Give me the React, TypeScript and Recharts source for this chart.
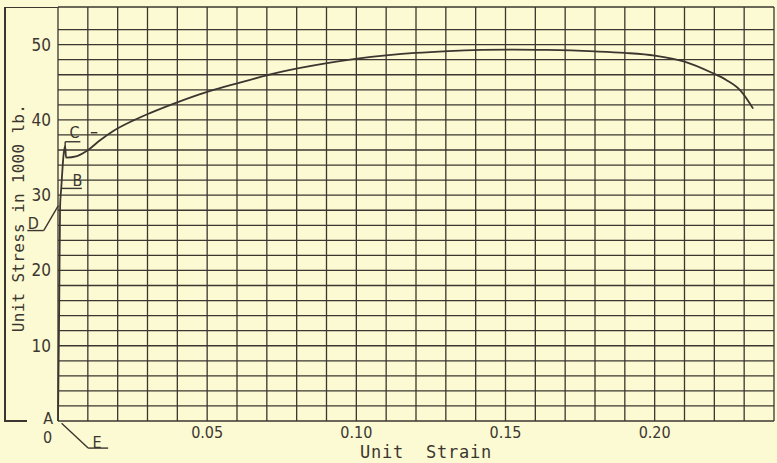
import React from 'react';
import { LineChart, Line, XAxis, YAxis, CartesianGrid, ReferenceLine, ReferenceDot } from 'recharts';

// Stress-strain curve for mild steel
const strain = [
  0, 0.0004, 0.0007, 0.0011, 0.0019, 0.0024, 0.0027, 0.0064, 0.0097, 0.0141, 0.0184,
  0.0251, 0.0308, 0.0384, 0.0474, 0.0641, 0.0751, 0.0897, 0.0997, 0.1108, 0.1197,
  0.1308, 0.142, 0.153, 0.164, 0.18, 0.19, 0.2, 0.21, 0.219, 0.224, 0.229, 0.233,
];
const stress = [
  0, 15, 28.5, 31, 35.5, 36.5, 35.0, 35.2, 35.9, 37.3, 38.5,
  39.9, 40.9, 42.1, 43.4, 45.3, 46.4, 47.5, 48.1, 48.6, 48.9,
  49.15, 49.3, 49.35, 49.3, 49.1, 48.9, 48.55, 47.75, 46.3, 45.3, 43.8, 41.5,
];

const strainGrid = [
  0, 0.01, 0.02, 0.03, 0.04, 0.05, 0.06, 0.07, 0.08, 0.09, 0.1, 0.11, 0.12,
  0.13, 0.14, 0.15, 0.16, 0.17, 0.18, 0.19, 0.2, 0.21, 0.22, 0.23, 0.24,
];
const strainLabels = [0.05, 0.1, 0.15, 0.2];
const strainLabelText = ['0.05', '0.10', '0.15', '0.20'];

const stressGrid = [0, 2, 4, 6, 8, 10, 12, 14, 16, 18, 20, 22, 24, 26, 28, 30, 32, 34, 36, 38, 40, 42, 44, 46, 48, 50, 52, 55];
const stressLabels = [10, 20, 30, 40, 50];

// point letters: [text, strain, stress]
const pointLetters: [string, number, number][] = [
  ['C', 0.0055, 38.3],
  ['B', 0.0065, 32.0],
  ['D', -0.0083, 26.3],
  ['A', -0.0033, 0.4],
  ['0', -0.0035, -2.2],
  ['E', 0.0131, -2.8],
];

// leader lines drawn in data space
const leaders: [number, number, number, number][] = [
  [0.0024, 36.4, 0.0024, 37.1],
  [0.0024, 37.1, 0.0075, 37.1],
  [0.0011, 30.9, 0.008, 30.9],
  [-0.0103, 25.3, -0.0048, 25.3],
  [-0.0048, 25.3, 0.0001, 28.6],
  [0.0012, -0.3, 0.0101, -3.6],
  [0.0101, -3.6, 0.0168, -3.6],
  [0.011, 38.3, 0.0132, 38.3],
];

const ink = '#3b3630';
const paper = '#fcfad2';
const tickFont = "'Liberation Sans Narrow', 'DejaVu Sans Condensed', 'DejaVu Sans', sans-serif";
const titleFont = "'DejaVu Sans Mono', monospace";

const data = strain.map((s, i) => ({ strain: s, stress: stress[i] }));

const StrainTick = (props: any) => {
  const { x, payload } = props;
  const idx = strainLabels.findIndex((v) => Math.abs(v - payload.value) < 1e-9);
  if (idx < 0) return <g />;
  return (
    <text x={x} y={438} textAnchor="middle" fill={ink} fontSize={16} fontFamily={tickFont}>
      {strainLabelText[idx]}
    </text>
  );
};

const StressTick = (props: any) => {
  const { y, payload } = props;
  if (!stressLabels.includes(payload.value)) return <g />;
  return (
    <text x={51} y={y} dy={6} textAnchor="end" fill={ink} fontSize={17} fontFamily={tickFont}>
      {payload.value}
    </text>
  );
};

const frame: React.CSSProperties = { position: 'absolute', background: ink };

export default function App() {
  return (
    <div style={{ position: 'absolute', left: 0, top: 0, width: 777, height: 463, background: paper, overflow: 'hidden' }}>
      <div style={{ ...frame, left: 4, top: 7, width: 1.5, height: 414 }} />
      <div style={{ ...frame, left: 4, top: 6.5, width: 54, height: 1.5 }} />
      <div style={{ ...frame, left: 4, top: 420, width: 23, height: 1.5 }} />
      <LineChart width={777} height={463} data={data} margin={{ top: 7, right: 3, bottom: 0, left: 0 }}>
        <CartesianGrid stroke={ink} strokeWidth={1.3} />
        <XAxis
          dataKey="strain"
          type="number"
          domain={[0, 0.24]}
          ticks={strainGrid}
          interval={0}
          tick={<StrainTick />}
          tickLine={false}
          axisLine={false}
          height={42}
        />
        <YAxis
          type="number"
          domain={[0, 55]}
          ticks={stressGrid}
          interval={0}
          tick={<StressTick />}
          tickLine={false}
          axisLine={false}
          width={58}
        />
        {leaders.map((l, i) => (
          <ReferenceLine
            key={'l' + i}
            segment={[{ x: l[0], y: l[1] }, { x: l[2], y: l[3] }]}
            stroke={ink}
            strokeWidth={1.4}
            ifOverflow="visible"
          />
        ))}
        {pointLetters.map((p) => (
          <ReferenceDot
            key={p[0]}
            x={p[1]}
            y={p[2]}
            r={0}
            ifOverflow="visible"
            label={{ value: p[0], position: 'center', fill: ink, fontSize: 16, fontFamily: tickFont }}
          />
        ))}
        <Line
          type="monotone"
          dataKey="stress"
          stroke={ink}
          strokeWidth={1.8}
          dot={false}
          isAnimationActive={false}
        />
      </LineChart>
      <div
        style={{
          position: 'absolute', left: 426, top: 452, transform: 'translate(-50%, -50%)',
          whiteSpace: 'pre', fontFamily: titleFont, fontSize: 17, letterSpacing: 0.75, color: ink,
        }}
      >
        Unit  Strain
      </div>
      <div
        style={{
          position: 'absolute', left: 18, top: 218, transform: 'translate(-50%, -50%) rotate(-90deg)',
          whiteSpace: 'pre', fontFamily: titleFont, fontSize: 16, letterSpacing: 0.3, color: ink,
        }}
      >
        Unit Stress in 1000 lb.
      </div>
    </div>
  );
}
